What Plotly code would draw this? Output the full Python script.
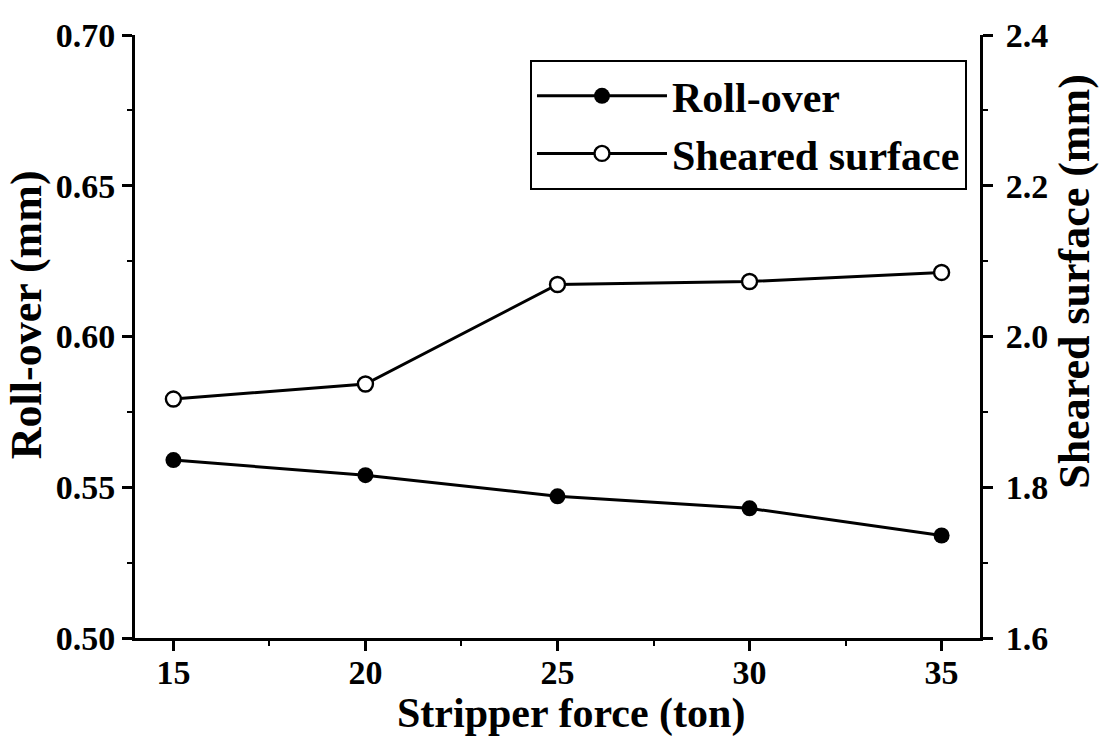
import plotly.graph_objects as go

stripper_force = [15, 20, 25, 30, 35]
roll_over = [0.559, 0.554, 0.547, 0.543, 0.534]
sheared_surface = [1.917, 1.937, 2.069, 2.073, 2.085]

FONT = "Liberation Serif"
BLACK = "#000000"

fig = go.Figure()
fig.add_trace(go.Scatter(
    x=stripper_force, y=roll_over, name="Roll-over", mode="lines+markers",
    line=dict(color=BLACK, width=3),
    marker=dict(symbol="circle", size=16, color=BLACK),
    yaxis="y",
))
fig.add_trace(go.Scatter(
    x=stripper_force, y=sheared_surface, name="Sheared surface", mode="lines+markers",
    line=dict(color=BLACK, width=3),
    marker=dict(symbol="circle", size=15, color="white", line=dict(color=BLACK, width=2.4)),
    yaxis="y2",
))

tickfont = dict(family=FONT, size=34, color=BLACK, weight="bold")
titlefont = dict(family=FONT, size=44, color=BLACK, weight="bold")
xtitlefont = dict(family=FONT, size=42, color=BLACK, weight="bold")

fig.update_layout(
    width=1102, height=737,
    margin=dict(l=135, r=122, t=35, b=99),
    paper_bgcolor="white", plot_bgcolor="white",
    showlegend=True,
    legend=dict(
        x=0.9846, xanchor="right", y=0.9585, yanchor="top",
        bgcolor="white", bordercolor=BLACK, borderwidth=2,
        font=dict(family=FONT, size=42, color=BLACK, weight="bold"),
        itemwidth=130, tracegroupgap=0,
    ),
    xaxis=dict(
        range=[14, 36], tickvals=stripper_force, ticks="outside", ticklen=10, tickwidth=2.5,
        tickcolor=BLACK, showline=True, linecolor=BLACK, linewidth=3, showgrid=False,
        zeroline=False, tickfont=tickfont, automargin=False, ticklabelstandoff=-8,
        minor=dict(dtick=2.5, ticks="outside", ticklen=5, tickwidth=2, tickcolor=BLACK, showgrid=False),
    ),
    xaxis2=dict(
        range=[14, 36], overlaying="x", side="top", tickvals=stripper_force, ticks="inside",
        ticklen=10, tickwidth=2.5, tickcolor=BLACK, showline=True, linecolor=BLACK, linewidth=3,
        showgrid=False, zeroline=False, showticklabels=False, anchor="y",
        minor=dict(dtick=2.5, ticks="inside", ticklen=5, tickwidth=2, tickcolor=BLACK, showgrid=False),
    ),
    yaxis=dict(
        range=[0.5, 0.7], dtick=0.05, tickformat=".2f", ticks="outside", ticklen=10, tickwidth=2.5,
        tickcolor=BLACK, showline=True, linecolor=BLACK, linewidth=3, showgrid=False,
        zeroline=False, tickfont=tickfont, automargin=False,
        minor=dict(dtick=0.025, ticks="outside", ticklen=5, tickwidth=2, tickcolor=BLACK, showgrid=False),
    ),
    yaxis2=dict(
        range=[1.6, 2.4], dtick=0.2, tickformat=".1f", overlaying="y", side="right",
        ticks="outside", ticklen=10, tickwidth=2.5, tickcolor=BLACK, showline=True,
        linecolor=BLACK, linewidth=3, showgrid=False, zeroline=False, tickfont=tickfont,
        automargin=False, ticklabelstandoff=6,
        minor=dict(dtick=0.1, ticks="outside", ticklen=5, tickwidth=2, tickcolor=BLACK, showgrid=False),
    ),
    annotations=[
        dict(text="Stripper force (ton)", xref="paper", yref="paper", x=0.516, y=-0.1658,
             xanchor="center", yanchor="bottom", showarrow=False, font=xtitlefont, borderpad=0),
        dict(text="Roll-over (mm)", xref="paper", yref="paper", x=-0.129, y=0.537,
             xanchor="center", yanchor="middle", showarrow=False, font=titlefont,
             textangle=-90, borderpad=0),
        dict(text="Sheared surface (mm)", xref="paper", yref="paper", x=1.111, y=0.592,
             xanchor="center", yanchor="middle", showarrow=False, font=titlefont,
             textangle=-90, borderpad=0),
    ],
)

fig.write_html("out.html")
